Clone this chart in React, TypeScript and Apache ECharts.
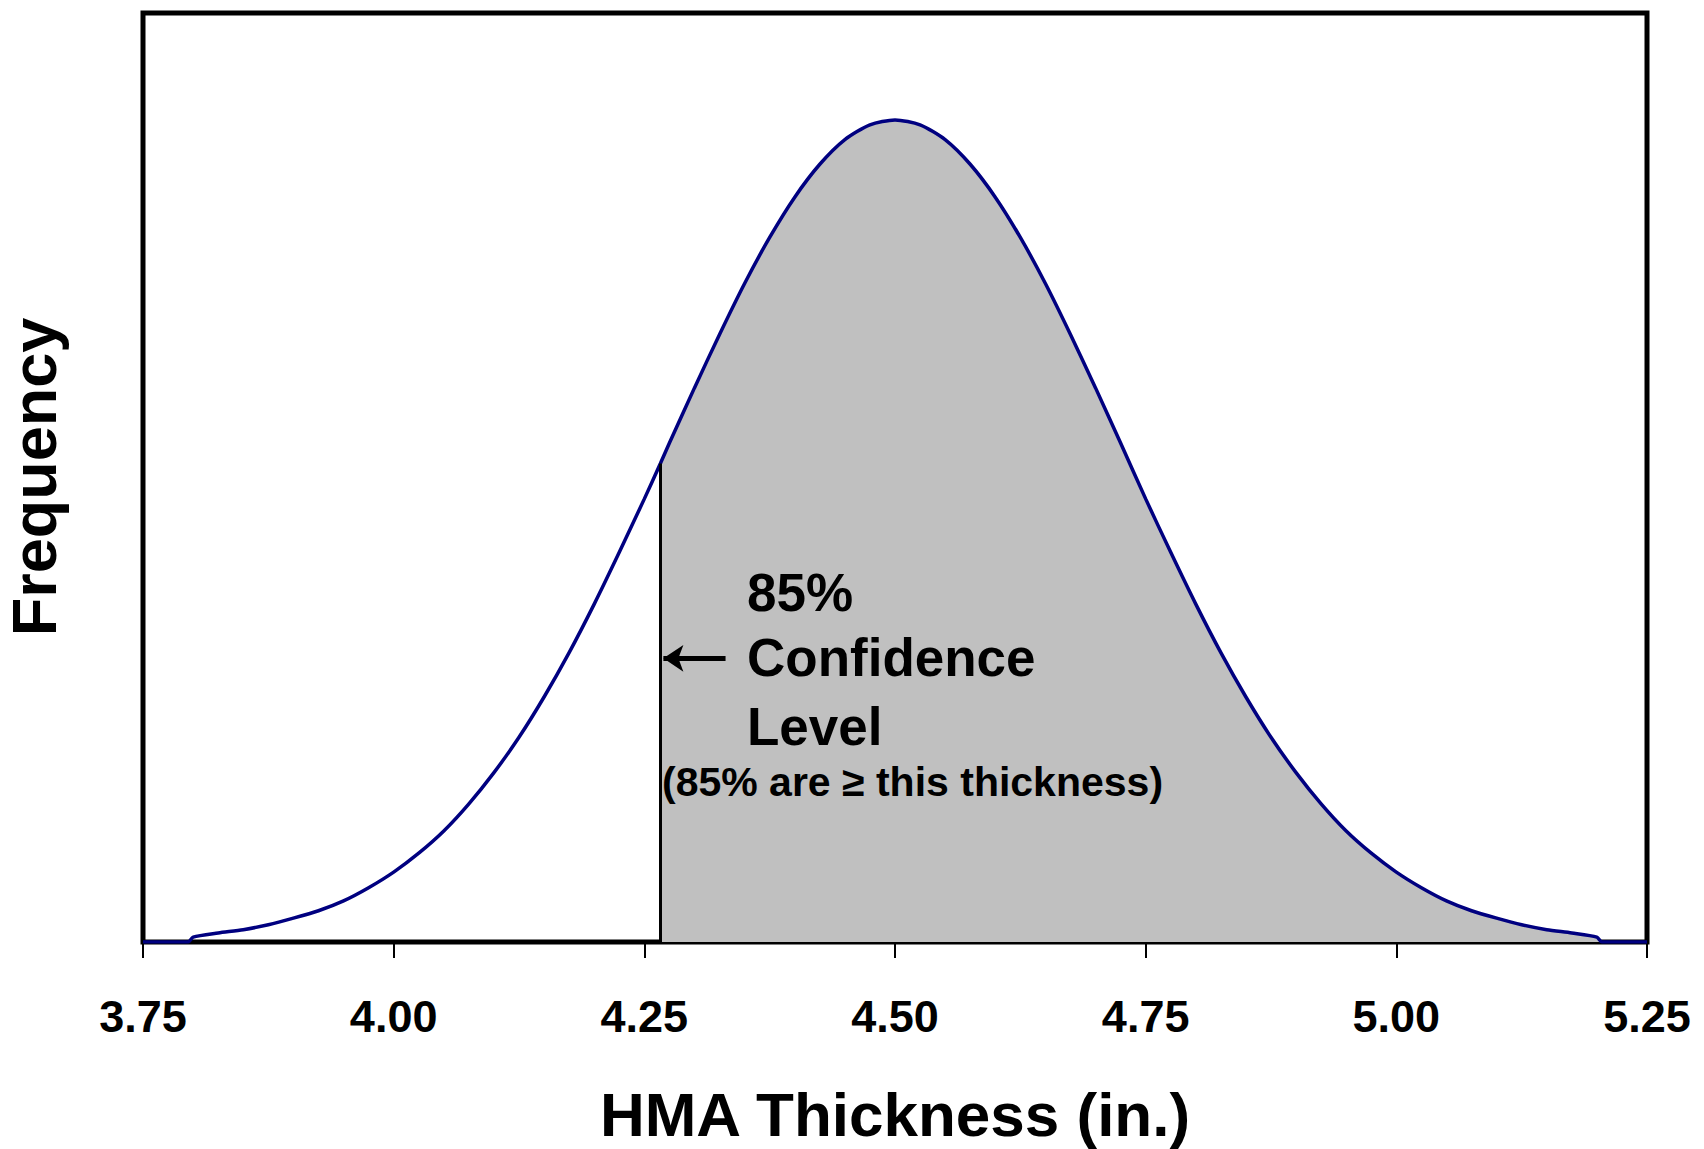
import React, { useEffect, useRef } from "react";
import * as echarts from "echarts";

// HMA thickness (in.) and relative frequency
const thickness = [
  3.75, 3.795, 3.8, 3.825, 3.85, 3.875, 3.9, 3.925, 3.95, 3.975, 4.0, 4.025, 4.05, 4.075, 4.1,
  4.125, 4.15, 4.175, 4.2, 4.225, 4.25, 4.266, 4.275, 4.3, 4.325, 4.35, 4.375, 4.4, 4.425, 4.45,
  4.475, 4.5, 4.525, 4.55, 4.575, 4.6, 4.625, 4.65, 4.675, 4.7, 4.725, 4.75, 4.775, 4.8, 4.825,
  4.85, 4.875, 4.9, 4.925, 4.95, 4.975, 5.0, 5.025, 5.05, 5.075, 5.1, 5.125, 5.15, 5.175, 5.2,
  5.205, 5.25,
];
const frequency = [
  0, 0, 0.6, 1.1, 1.5, 2.1, 2.9, 3.8, 5.0, 6.6, 8.5, 10.8, 13.5, 16.8, 20.6, 24.9, 29.8, 35.2,
  41.1, 47.4, 53.9, 58.2, 60.7, 67.4, 73.9, 80.1, 85.7, 90.6, 94.6, 97.6, 99.4, 100, 99.4, 97.6,
  94.6, 90.6, 85.7, 80.1, 73.9, 67.4, 60.7, 53.9, 47.4, 41.1, 35.2, 29.8, 24.9, 20.6, 16.8, 13.5,
  10.8, 8.5, 6.6, 5.0, 3.8, 2.9, 2.1, 1.5, 1.1, 0.6, 0, 0,
];
const tickValues = [3.75, 4.0, 4.25, 4.5, 4.75, 5.0, 5.25];
const confidenceThickness = 4.266;
const confidenceFrequency = 58.2;
const arrowFrom = [4.331, 34.5];
const arrowTo = [4.269, 34.5];

const FONT = "'Liberation Sans', Arial, sans-serif";

export default function App() {
  const ref = useRef<HTMLDivElement>(null);
  useEffect(() => {
    document.body.style.margin = "0";
    if (!ref.current) return;
    const chart = echarts.init(ref.current, null, { renderer: "svg" });
    const curve = thickness.map((t, i) => [t, frequency[i]]);
    const shaded = curve.filter((p) => p[0] >= confidenceThickness);

    const annot = (text: string, x: number, y: number, size: number) => ({
      type: "text",
      x,
      y,
      z: 100,
      style: {
        text,
        fontFamily: FONT,
        fontWeight: "bold",
        fontSize: size,
        fill: "#000",
        align: "left",
        verticalAlign: "middle",
      },
    });

    chart.setOption({
      animation: false,
      backgroundColor: "#ffffff",
      grid: {
        left: 143,
        right: 57,
        top: 13,
        bottom: 207,
        show: true,
        borderColor: "#000",
        borderWidth: 5,
        backgroundColor: "transparent",
      },
      xAxis: {
        type: "value",
        min: 3.75,
        max: 5.25,
        interval: 0.25,
        axisLine: { show: true, lineStyle: { color: "#000", width: 3 } },
        axisTick: { show: true, length: 16, lineStyle: { color: "#000", width: 2 } },
        splitLine: { show: false },
        axisLabel: {
          margin: 52,
          color: "#000",
          fontFamily: FONT,
          fontWeight: "bold",
          fontSize: 45,
          formatter: (v: number) => (tickValues.includes(Number(v.toFixed(2))) ? v.toFixed(2) : ""),
        },
      },
      yAxis: {
        type: "value",
        min: 0,
        max: 113,
        show: false,
        splitLine: { show: false },
      },
      series: [
        {
          type: "line",
          data: shaded,
          showSymbol: false,
          symbol: "none",
          smooth: 0.25,
          lineStyle: { width: 0, opacity: 0 },
          areaStyle: { color: "#c0c0c0", opacity: 1 },
          z: 1,
          silent: true,
          markLine: {
            silent: true,
            symbol: ["none", "none"],
            label: { show: false },
            lineStyle: { color: "#000", width: 3, type: "solid" },
            data: [
              [
                { coord: [confidenceThickness, 0] },
                { coord: [confidenceThickness, confidenceFrequency] },
              ],
            ],
          },
        },
        {
          type: "line",
          data: curve,
          showSymbol: false,
          symbol: "none",
          smooth: 0.25,
          lineStyle: { color: "#000080", width: 3.5 },
          z: 3,
          silent: true,
          markLine: {
            silent: true,
            symbol: ["none", "arrow"],
            symbolSize: [20, 20],
            label: { show: false },
            lineStyle: { color: "#000", width: 5, type: "solid" },
            data: [[{ coord: arrowFrom }, { coord: arrowTo }]],
          },
        },
      ],
      graphic: [
        {
          type: "text",
          x: 34,
          y: 477,
          z: 100,
          rotation: Math.PI / 2,
          style: {
            text: "Frequency",
            fontFamily: FONT,
            fontWeight: "bold",
            fontSize: 63,
            fill: "#000",
            align: "center",
            verticalAlign: "middle",
          },
        },
        {
          type: "text",
          x: 895,
          y: 1114,
          z: 100,
          style: {
            text: "HMA Thickness (in.)",
            fontFamily: FONT,
            fontWeight: "bold",
            fontSize: 62,
            fill: "#000",
            align: "center",
            verticalAlign: "middle",
          },
        },
        annot("85%", 747, 592, 53),
        annot("Confidence", 747, 657, 53),
        annot("Level", 747, 726, 53),
        annot("(85% are ≥ this thickness)", 662, 782, 41),
      ],
    });
    return () => chart.dispose();
  }, []);
  return <div ref={ref} style={{ width: 1704, height: 1149 }} />;
}
